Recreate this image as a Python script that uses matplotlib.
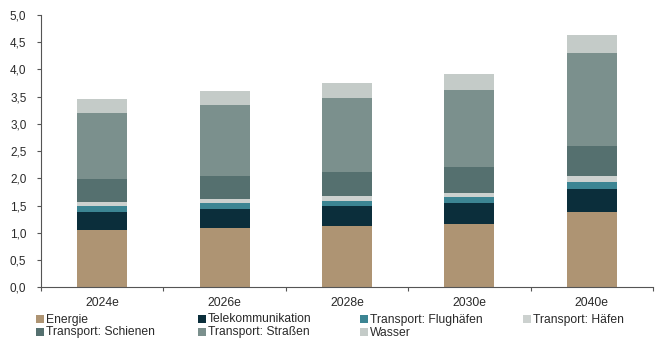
import matplotlib
matplotlib.use("Agg")
import matplotlib.pyplot as plt
from matplotlib.patches import Rectangle
from matplotlib.ticker import FixedLocator, FuncFormatter
import numpy as np

categories = ["2024e", "2026e", "2028e", "2030e", "2040e"]
series_names = ["Energie", "Telekommunikation", "Transport: Flughäfen", "Transport: Häfen",
                "Transport: Schienen", "Transport: Straßen", "Wasser"]
energie = [1.05, 1.09, 1.13, 1.17, 1.39]
telekom = [0.33, 0.34, 0.36, 0.37, 0.42]
flughaefen = [0.11, 0.11, 0.10, 0.11, 0.12]
haefen = [0.08, 0.08, 0.09, 0.09, 0.12]
schienen = [0.41, 0.43, 0.44, 0.47, 0.55]
strassen = [1.22, 1.29, 1.36, 1.41, 1.70]
wasser = [0.26, 0.26, 0.27, 0.29, 0.34]
series = [energie, telekom, flughaefen, haefen, schienen, strassen, wasser]
colors = ["#AE9473", "#0B2E3B", "#3C8593", "#CCD1CF", "#55706F", "#7B908D", "#C4CBC8"]

plt.rcParams['font.family'] = ['Liberation Sans', 'DejaVu Sans']
txt = "#2a2a2a"

fig = plt.figure(figsize=(6.56, 3.38), dpi=100)
ax = fig.add_axes([41/656, 1-287.3/338, (653-41)/656, (287.3-15)/338])

x = np.arange(len(categories))
bottom = np.zeros(len(categories))
for vals, col in zip(series, colors):
    ax.bar(x, vals, width=0.41, bottom=bottom, color=col, edgecolor='none')
    bottom += np.array(vals)

ax.set_xlim(-0.5, len(categories) - 0.5)
ax.set_ylim(0, 5.0)
ax.yaxis.set_major_locator(FixedLocator(np.arange(0, 5.01, 0.5)))
ax.yaxis.set_major_formatter(FuncFormatter(lambda v, p: f"{v:.1f}".replace('.', ',')))
ax.set_xticks(x)
ax.set_xticklabels(categories)
ax.xaxis.set_minor_locator(FixedLocator(np.arange(-0.5, len(categories), 1.0)))
ax.tick_params(axis='x', which='major', length=0, pad=7, labelsize=8.7, labelcolor=txt)
ax.tick_params(axis='x', which='minor', length=3, color='#555555', width=0.8)
ax.tick_params(axis='y', length=3, color='#555555', width=0.8, labelsize=8.5, labelcolor=txt, pad=7.5)
for s in ['top', 'right']:
    ax.spines[s].set_visible(False)
for s in ['left', 'bottom']:
    ax.spines[s].set_color('#555555')
    ax.spines[s].set_linewidth(0.8)

# legend grid (4 columns, 2 rows)
col_x = [36, 198, 360, 523]
row_y = [318.5, 331.5]
W, H = 656, 338
for i, (name, col) in enumerate(zip(series_names, colors)):
    r, c = divmod(i, 4)
    mx, my = col_x[c], row_y[r]
    fig.patches.append(Rectangle((mx/W, 1-(my+4)/H), 8/W, 8/H, transform=fig.transFigure,
                                 facecolor=col, edgecolor='none'))
    fig.text((mx+10)/W, 1-(my+4)/H, name, fontsize=8.7, color=txt, va='baseline', ha='left')

fig.savefig("out.png", dpi=100)
